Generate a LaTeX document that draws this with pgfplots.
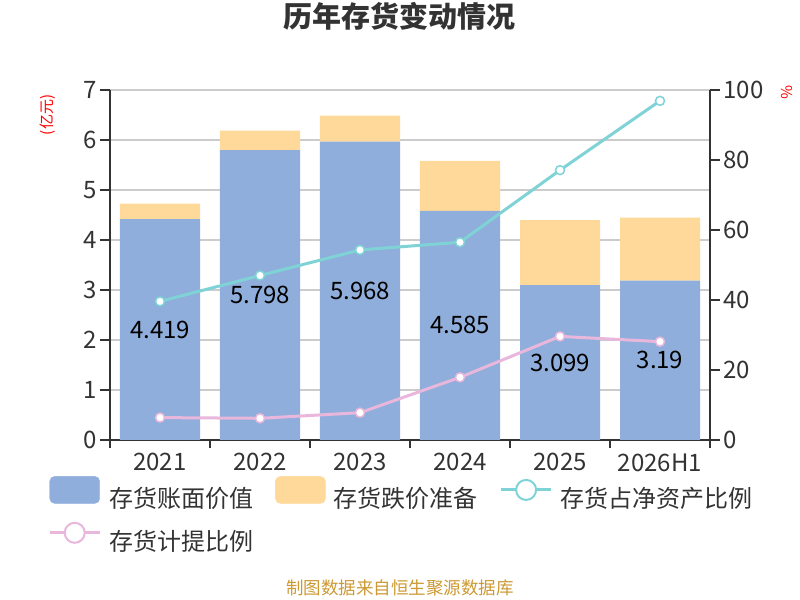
\documentclass[border=0pt]{standalone}
\usepackage{pgfplots}
\pgfplotsset{compat=1.18}
\usepackage{pgfplotstable}
\usepackage{fontspec}
\setmainfont{Noto Sans CJK SC}
\definecolor{barblue}{RGB}{143,174,219}
\definecolor{barorange}{RGB}{255,217,153}
\definecolor{lcyan}{RGB}{127,211,214}
\definecolor{lpink}{RGB}{232,183,219}
\definecolor{txt}{RGB}{51,51,51}
\definecolor{axcol}{RGB}{51,51,51}
\definecolor{gridcol}{RGB}{204,204,204}
\definecolor{foot}{RGB}{204,153,51}
\newcommand\tickfont{\fontsize{24bp}{28bp}\selectfont}
\newcommand\legfont{\fontsize{24bp}{28bp}\selectfont}
\newcommand\titlefont{\fontsize{29bp}{34bp}\selectfont\bfseries}
\newcommand\footfont{\fontsize{17.5bp}{20bp}\selectfont}
\newcommand\unitfont{\fontsize{15bp}{18bp}\selectfont}

\pgfplotstableread{
x book reserve label
0 4.419 0.31 4.419
1 5.798 0.39 5.798
2 5.968 0.52 5.968
3 4.585 1.00 4.585
4 3.099 1.30 3.099
5 3.19 1.26 3.19
}\bardata
\pgfplotstableread{
x ratio prov
0 39.6 6.4
1 47.0 6.2
2 54.3 7.8
3 56.5 17.9
4 77.1 29.6
5 96.9 28.1
}\linedata

\pgfplotsset{common/.style={
  scale only axis, width=600bp, height=350bp,
  at={(110bp,160bp)}, anchor=south west,
  xmin=-0.5, xmax=5.5,
  /pgf/number format/assume math mode=true,
  tick label style={font=\tickfont, text=txt},
  axis line style={draw=axcol, line width=2bp, -},
  tick style={draw=axcol, line width=2bp},
  major tick length=10bp,
  tick align=outside,
}}

\begin{document}
\begin{tikzpicture}
\useasboundingbox (0,0) rectangle (800bp,600bp);
\begin{axis}[common,
  ymin=0, ymax=7, ytick={0,...,7},
  axis y line*=left, axis x line*=bottom,
  xtick={0,...,5}, xticklabels={2021,2022,2023,2024,2025,2026H1},
  minor xtick={-0.5,0.5,...,5.5},
  major x tick style={draw=none},
  minor tick length=8bp,
  minor x tick style={draw=axcol, line width=2bp},
  ymajorgrids, grid style={gridcol, line width=1.2bp},
  ybar stacked, bar width=80bp,
  title={历年存货变动情况},
  title style={at={(axis description cs:0.4833,1.194)}, anchor=center, font=\titlefont, text=txt},
  ylabel={(亿元)},
  ylabel style={at={(axis description cs:-0.1033,0.9286)}, anchor=center, font=\unitfont, text=red},
]
\addplot[fill=barblue, draw=none] table[x=x, y=book] {\bardata};
\addplot[fill=barorange, draw=none] table[x=x, y=reserve] {\bardata};
\end{axis}
\begin{axis}[common, hide axis, ymin=0, ymax=7]
\addplot[draw=none, mark=none, nodes near coords, point meta=explicit symbolic,
  nodes near coords style={anchor=center, font=\tickfont, text=black}]
  table[x=x, y expr=\thisrow{book}/2, meta=label] {\bardata};
\end{axis}
\begin{axis}[common,
  ymin=0, ymax=100, ytick={0,20,...,100},
  axis y line*=right, axis x line=none,
  ylabel={\%},
  ylabel style={at={(axis description cs:1.128,0.994)}, anchor=center, rotate=-180, font=\unitfont, text=red},
  legend columns=3,
  legend style={at={(-0.1033,-0.1029)}, anchor=north west, draw=none, fill=none,
    inner sep=0pt, font=\legfont, text=txt, row sep=13bp,
    nodes={inner sep=0pt},
    /tikz/every odd column/.append style={column sep=8bp},
    /tikz/every even column/.append style={column sep=22bp}},
]
\addlegendimage{legend image code/.code={\fill[barblue, rounded corners=5bp] (0bp,-5.5bp) rectangle (50bp,21.5bp);}}
\addlegendentry{存货账面价值}
\addlegendimage{legend image code/.code={\fill[barorange, rounded corners=5bp] (0bp,-5.5bp) rectangle (50bp,21.5bp);}}
\addlegendentry{存货跌价准备}
\addplot[lcyan, line width=3bp, mark=*, mark size=4.5bp,
  mark options={fill=white, draw=lcyan, line width=1.5bp},
  legend image code/.code={\draw[lcyan, line width=3bp] (0bp,8bp) -- (50bp,8bp); \draw[lcyan, fill=white, line width=2bp] (25bp,8bp) circle (10bp);}]
  table[x=x, y=ratio] {\linedata};
\addlegendentry{存货占净资产比例}
\addplot[lpink, line width=3bp, mark=*, mark size=4.5bp,
  mark options={fill=white, draw=lpink, line width=1.5bp},
  legend image code/.code={\draw[lpink, line width=3bp] (0bp,8bp) -- (50bp,8bp); \draw[lpink, fill=white, line width=2bp] (25bp,8bp) circle (10bp);}]
  table[x=x, y=prov] {\linedata};
\addlegendentry{存货计提比例}
\end{axis}
\node[font=\footfont, text=foot] at (400bp,12bp) {制图数据来自恒生聚源数据库};
\end{tikzpicture}
\end{document}
